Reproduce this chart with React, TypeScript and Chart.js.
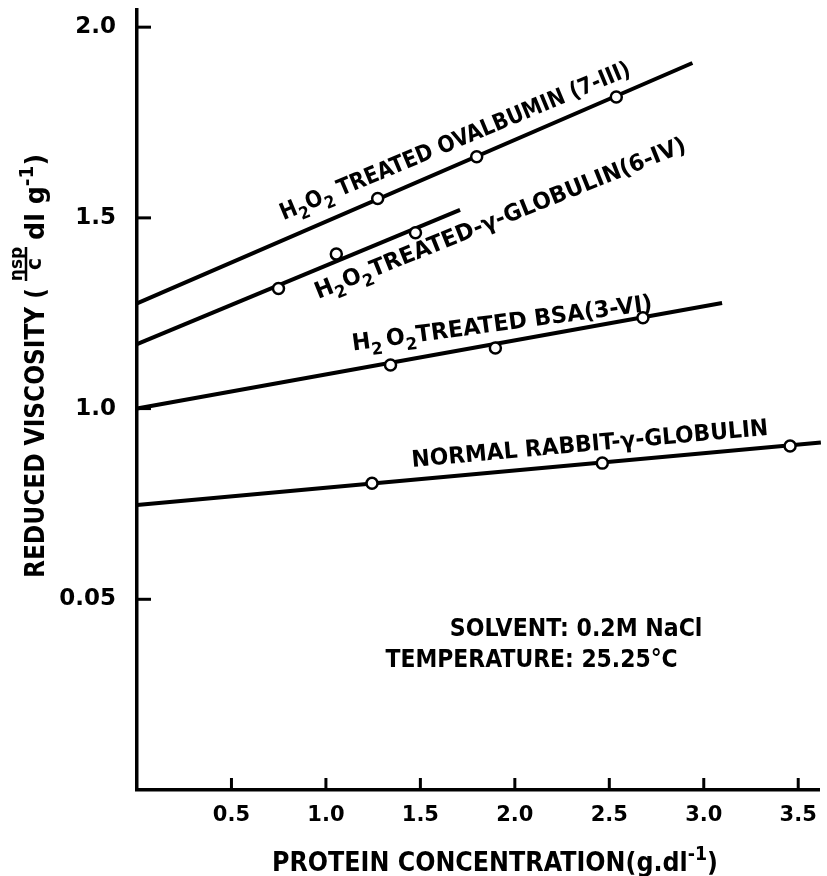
import React, { useEffect, useRef } from "react";
import { Chart, registerables } from "chart.js";

Chart.register(...registerables);

// ---- axis ticks ----
const xTickValues = [0.5, 1.0, 1.5, 2.0, 2.5, 3.0, 3.5];
const xTickLabels = ["0.5", "1.0", "1.5", "2.0", "2.5", "3.0", "3.5"];
const yTickValues = [0.5, 1.0, 1.5, 2.0];
const yTickLabels = ["0.05", "1.0", "1.5", "2.0"];

// ---- H2O2 treated ovalbumin (7-III) ----
const ovalbuminX = [1.274, 1.798, 2.537];
const ovalbuminY = [1.551, 1.66, 1.817];
const ovalbuminFitX = [0, 2.94];
const ovalbuminFitY = [1.276, 1.906];

// ---- H2O2 treated gamma-globulin (6-IV) ----
const gammaX = [0.749, 1.055, 1.474];
const gammaY = [1.315, 1.405, 1.461];
const gammaFitX = [0, 1.71];
const gammaFitY = [1.169, 1.521];

// ---- H2O2 treated BSA (3-VI) ----
const bsaX = [1.342, 1.897, 2.678];
const bsaY = [1.114, 1.159, 1.238];
const bsaFitX = [0, 3.097];
const bsaFitY = [1.0, 1.277];

// ---- normal rabbit gamma-globulin ----
const normalX = [1.244, 2.463, 3.457];
const normalY = [0.804, 0.857, 0.902];
const normalFitX = [0, 3.62];
const normalFitY = [0.747, 0.911];

const FAMILY = "'DejaVu Sans', 'Liberation Sans', sans-serif";

type Run = { t: string; sub?: boolean; sup?: boolean };

const toXY = (xs: number[], ys: number[]) => xs.map((x, i) => ({ x, y: ys[i] }));

function drawRuns(
  ctx: CanvasRenderingContext2D,
  runs: Run[],
  size: number,
  x0: number,
  y0: number,
  x1: number,
  y1: number
) {
  const angle = Math.atan2(y1 - y0, x1 - x0);
  const len = Math.hypot(x1 - x0, y1 - y0);
  const main = `bold ${size}px ${FAMILY}`;
  const small = `bold ${Math.round(size * 0.72)}px ${FAMILY}`;
  let w = 0;
  for (const r of runs) {
    ctx.font = r.sub || r.sup ? small : main;
    w += ctx.measureText(r.t).width;
  }
  ctx.save();
  ctx.translate(x0, y0);
  ctx.rotate(angle);
  ctx.scale(len / w, 1);
  ctx.textAlign = "left";
  ctx.textBaseline = "alphabetic";
  ctx.fillStyle = "#000";
  let cx = 0;
  for (const r of runs) {
    ctx.font = r.sub || r.sup ? small : main;
    const dy = r.sub ? size * 0.3 : r.sup ? -size * 0.42 : 0;
    ctx.fillText(r.t, cx, dy);
    cx += ctx.measureText(r.t).width;
  }
  ctx.restore();
}

// line labels: baseline start/end given in data units
const lineLabels: { runs: Run[]; size: number; from: [number, number]; to: [number, number] }[] = [
  {
    runs: [{ t: "H" }, { t: "2", sub: true }, { t: "O" }, { t: "2", sub: true }, { t: " TREATED OVALBUMIN (7-III)" }],
    size: 23,
    from: [0.776, 1.494],
    to: [2.62, 1.875],
  },
  {
    runs: [{ t: "H" }, { t: "2", sub: true }, { t: "O" }, { t: "2", sub: true }, { t: "TREATED-γ-GLOBULIN(6-IV)" }],
    size: 23,
    from: [0.959, 1.287],
    to: [2.914, 1.676],
  },
  {
    runs: [{ t: "H" }, { t: "2", sub: true }, { t: "\u2009O" }, { t: "2", sub: true }, { t: "TREATED BSA(3-VI)" }],
    size: 23,
    from: [1.143, 1.152],
    to: [2.732, 1.258],
  },
  {
    runs: [{ t: "NORMAL RABBIT-γ-GLOBULIN" }],
    size: 23,
    from: [1.457, 0.847],
    to: [3.344, 0.931],
  },
  {
    runs: [{ t: "SOLVENT: 0.2M NaCl" }],
    size: 24,
    from: [1.656, 0.404],
    to: [2.993, 0.404],
  },
  {
    runs: [{ t: "TEMPERATURE: 25.25°C" }],
    size: 24,
    from: [1.316, 0.3225],
    to: [2.862, 0.3225],
  },
];

const annotationPlugin = {
  id: "viscosityAnnotations",
  afterDraw(chart: any) {
    const ctx: CanvasRenderingContext2D = chart.ctx;
    const xs = chart.scales.x;
    const ys = chart.scales.y;
    const area = chart.chartArea;

    // inside tick marks
    ctx.save();
    ctx.strokeStyle = "#000";
    ctx.lineWidth = 3;
    for (const v of yTickValues) {
      const py = ys.getPixelForValue(v);
      ctx.beginPath();
      ctx.moveTo(area.left, py);
      ctx.lineTo(area.left + 14, py);
      ctx.stroke();
    }
    for (const v of xTickValues) {
      const px = xs.getPixelForValue(v);
      ctx.beginPath();
      ctx.moveTo(px, area.bottom);
      ctx.lineTo(px, area.bottom - 12);
      ctx.stroke();
    }
    ctx.restore();

    // labels along the lines and solvent notes
    for (const l of lineLabels) {
      drawRuns(
        ctx,
        l.runs,
        l.size,
        xs.getPixelForValue(l.from[0]),
        ys.getPixelForValue(l.from[1]),
        xs.getPixelForValue(l.to[0]),
        ys.getPixelForValue(l.to[1])
      );
    }

    // x axis title
    drawRuns(
      ctx,
      [{ t: "PROTEIN CONCENTRATION(g.dl" }, { t: "-1", sup: true }, { t: ")" }],
      26,
      272,
      871,
      718,
      871
    );

    // y axis title (rotated), with eta_sp / c fraction
    const bx = 44;
    drawRuns(ctx, [{ t: "REDUCED VISCOSITY (" }], 26, bx, 578, bx, 288);
    ctx.save();
    ctx.translate(bx, 264);
    ctx.rotate(-Math.PI / 2);
    ctx.fillStyle = "#000";
    ctx.strokeStyle = "#000";
    ctx.textAlign = "center";
    ctx.textBaseline = "alphabetic";
    ctx.font = `bold 17px ${FAMILY}`;
    ctx.fillText("ηsp", 0, -22);
    ctx.lineWidth = 2.5;
    ctx.beginPath();
    ctx.moveTo(-17, -18);
    ctx.lineTo(17, -18);
    ctx.stroke();
    ctx.font = `bold 21px ${FAMILY}`;
    ctx.fillText("c", 0, -3);
    ctx.restore();
    drawRuns(ctx, [{ t: "dl g" }, { t: "-1", sup: true }, { t: ")" }], 26, bx, 240, bx, 154);
  },
};

export default function App() {
  const canvasRef = useRef<HTMLCanvasElement | null>(null);

  useEffect(() => {
    document.body.style.margin = "0";
    const canvas = canvasRef.current;
    if (!canvas) return;

    const fit = (xs: number[], ys: number[]) => ({
      type: "line" as const,
      data: toXY(xs, ys),
      borderColor: "#000",
      borderWidth: 4,
      pointRadius: 0,
      showLine: true,
      fill: false,
      order: 2,
      clip: 4,
    });
    const pts = (xs: number[], ys: number[]) => ({
      type: "scatter" as const,
      data: toXY(xs, ys),
      showLine: false,
      pointRadius: 5.5,
      pointBorderWidth: 2.5,
      pointBorderColor: "#000",
      pointBackgroundColor: "#fff",
      borderColor: "#000",
      order: 1,
    });

    const chart = new Chart(canvas, {
      type: "scatter",
      data: {
        datasets: [
          { label: "Ovalbumin fit", ...fit(ovalbuminFitX, ovalbuminFitY) },
          { label: "Gamma fit", ...fit(gammaFitX, gammaFitY) },
          { label: "BSA fit", ...fit(bsaFitX, bsaFitY) },
          { label: "Normal fit", ...fit(normalFitX, normalFitY) },
          { label: "Ovalbumin", ...pts(ovalbuminX, ovalbuminY) },
          { label: "Gamma", ...pts(gammaX, gammaY) },
          { label: "BSA", ...pts(bsaX, bsaY) },
          { label: "Normal", ...pts(normalX, normalY) },
        ] as any,
      },
      options: {
        responsive: false,
        animation: false,
        events: [],
        layout: { padding: { top: 10, right: 2, bottom: 0, left: 0 } },
        plugins: {
          legend: { display: false },
          tooltip: { enabled: false },
          title: { display: false },
        },
        scales: {
          x: {
            type: "linear",
            min: 0,
            max: 3.61,
            afterBuildTicks: (s: any) => {
              s.ticks = xTickValues.map((v) => ({ value: v }));
            },
            afterFit: (s: any) => {
              s.height = 86;
              s.paddingLeft = 0;
              s.paddingRight = 0;
            },
            ticks: {
              autoSkip: false,
              maxRotation: 0,
              padding: 13,
              color: "#000",
              font: { family: FAMILY, size: 21, weight: "bold" },
              callback: (v: any) => {
                const i = xTickValues.indexOf(Number(v));
                return i >= 0 ? xTickLabels[i] : "";
              },
            },
            grid: { display: false, drawTicks: false },
            border: { display: true, color: "#000", width: 3.5 },
          },
          y: {
            type: "linear",
            min: 0,
            max: 2.045,
            afterBuildTicks: (s: any) => {
              s.ticks = yTickValues.map((v) => ({ value: v }));
            },
            afterFit: (s: any) => {
              s.width = 137;
              s.paddingTop = 0;
              s.paddingBottom = 0;
            },
            ticks: {
              autoSkip: false,
              padding: 21,
              color: "#000",
              font: { family: FAMILY, size: 23, weight: "bold" },
              callback: (v: any) => {
                const i = yTickValues.indexOf(Number(v));
                return i >= 0 ? yTickLabels[i] : "";
              },
            },
            grid: { display: false, drawTicks: false },
            border: { display: true, color: "#000", width: 3.5 },
          },
        },
      } as any,
      plugins: [annotationPlugin],
    });

    return () => chart.destroy();
  }, []);

  return (
    <div style={{ width: 827, height: 876, background: "#fff" }}>
      <canvas ref={canvasRef} width={827} height={876} style={{ display: "block" }} />
    </div>
  );
}
